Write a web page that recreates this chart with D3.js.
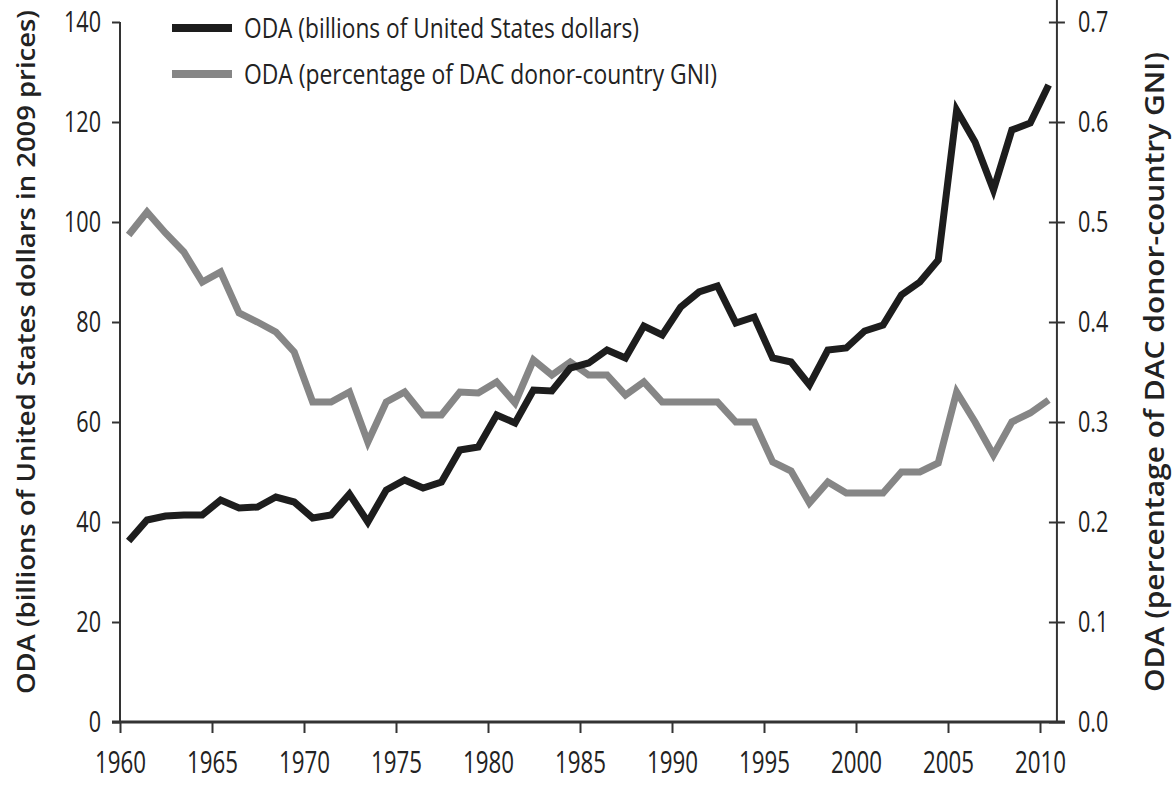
<!DOCTYPE html>
<html>
<head>
<meta charset="utf-8">
<script src="https://cdn.jsdelivr.net/npm/d3@7"></script>
<style>
  html, body { margin: 0; padding: 0; background: #fff; }
  svg { display: block; }
  .tick text { font-family: "Open Sans", "Noto Sans", sans-serif; fill: #222; }
</style>
</head>
<body>
<svg id="chart" width="1176" height="785"></svg>
<script>
const years = d3.range(1960, 2011);
const odaBillions = [36.2, 40.4, 41.2, 41.4, 41.4, 44.4, 42.8, 43.0, 45.0, 44.0,
  40.8, 41.4, 45.6, 40.0, 46.4, 48.4, 46.8, 48.0, 54.4, 55.0,
  61.4, 59.8, 66.4, 66.2, 70.8, 71.8, 74.4, 72.8, 79.2, 77.4,
  83.0, 86.0, 87.2, 79.8, 81.0, 72.8, 72.0, 67.4, 74.4, 74.8,
  78.2, 79.4, 85.4, 88.0, 92.4, 122.4, 116.0, 106.4, 118.4, 119.8,
  127.4];
const odaPctGNI = [0.487, 0.510, 0.489, 0.470, 0.440, 0.450, 0.409, 0.400, 0.390, 0.370,
  0.320, 0.320, 0.330, 0.280, 0.320, 0.330, 0.307, 0.307, 0.330, 0.329,
  0.340, 0.319, 0.362, 0.347, 0.360, 0.347, 0.347, 0.327, 0.340, 0.320,
  0.320, 0.320, 0.320, 0.300, 0.300, 0.260, 0.251, 0.219, 0.240, 0.229,
  0.229, 0.229, 0.250, 0.250, 0.259, 0.330, 0.300, 0.267, 0.300, 0.309,
  0.322];
const xTicks = [1960, 1965, 1970, 1975, 1980, 1985, 1990, 1995, 2000, 2005, 2010];
const leftTicks = [0, 20, 40, 60, 80, 100, 120, 140];
const rightTicks = [0, 0.1, 0.2, 0.3, 0.4, 0.5, 0.6, 0.7];
const seriesNames = ["ODA (billions of United States dollars)", "ODA (percentage of DAC donor-country GNI)"];
const leftTitle = "ODA (billions of United States dollars in 2009 prices)";
const rightTitle = "ODA (percentage of DAC donor-country GNI)";

const svg = d3.select("#chart");
const x = d3.scaleLinear().domain([1960, 2010]).range([120, 1040]);
const yL = d3.scaleLinear().domain([0, 140]).range([722, 22]);
const yR = d3.scaleLinear().domain([0, 0.7]).range([722, 22]);
const offset = 0.47;
const axisColor = "#333";
const condense = 0.72;

function narrow(sel) {
  sel.each(function () {
    const t = d3.select(this);
    const xx = +(t.attr("x") || 0);
    t.attr("x", xx / condense).attr("transform", `scale(${condense},1)`);
  });
}

// Left axis
const gL = svg.append("g").attr("transform", `translate(${x(1960)},0)`)
  .call(d3.axisLeft(yL).tickValues(leftTicks).tickSize(8).tickPadding(11).tickFormat(d3.format("d")));
gL.select(".domain").remove();
gL.selectAll(".tick line").attr("stroke", axisColor).attr("stroke-width", 2);
gL.selectAll(".tick text").attr("font-size", 30).call(narrow);
svg.append("line").attr("x1", x(1960)).attr("x2", x(1960)).attr("y1", yL(140)).attr("y2", yL(0))
  .attr("stroke", axisColor).attr("stroke-width", 2);

// Right axis
const rightX = x(2010.92);
const gR = svg.append("g").attr("transform", `translate(${rightX},0)`)
  .call(d3.axisRight(yR).tickValues(rightTicks).tickSize(8).tickPadding(13).tickFormat(d3.format(".1f")));
gR.select(".domain").remove();
gR.selectAll(".tick line").attr("x1", -8).attr("stroke", axisColor).attr("stroke-width", 2);
gR.selectAll(".tick text").attr("font-size", 30).call(narrow);
svg.append("line").attr("x1", rightX).attr("x2", rightX).attr("y1", 0).attr("y2", yR(0))
  .attr("stroke", axisColor).attr("stroke-width", 2);

// Bottom axis
const gB = svg.append("g").attr("transform", `translate(0,${yL(0)})`)
  .call(d3.axisBottom(x).tickValues(xTicks).tickSize(11).tickPadding(18).tickFormat(d3.format("d")));
gB.select(".domain").remove();
gB.selectAll(".tick line").attr("stroke", axisColor).attr("stroke-width", 2);
gB.selectAll(".tick text").attr("font-size", 31).call(narrow);
svg.append("line").attr("x1", x(1960) - 8).attr("x2", rightX + 8).attr("y1", yL(0)).attr("y2", yL(0))
  .attr("stroke", axisColor).attr("stroke-width", 3);

// Lines
const lineL = d3.line().x((d, i) => x(years[i] + offset)).y(d => yL(d));
const lineR = d3.line().x((d, i) => x(years[i] + offset)).y(d => yR(d));
svg.append("path").datum(odaPctGNI).attr("d", lineR).attr("fill", "none")
  .attr("stroke", "#868686").attr("stroke-width", 7).attr("stroke-linejoin", "miter");
svg.append("path").datum(odaBillions).attr("d", lineL).attr("fill", "none")
  .attr("stroke", "#1d1d1d").attr("stroke-width", 7).attr("stroke-linejoin", "miter");

// Legend
const legendColors = ["#1d1d1d", "#868686"];
const legendWidths = [395, 473];
const leg = svg.append("g");
seriesNames.forEach((name, i) => {
  const yy = 28 + i * 46;
  leg.append("line").attr("x1", 172).attr("x2", 232).attr("y1", yy).attr("y2", yy)
    .attr("stroke", legendColors[i]).attr("stroke-width", 8);
  leg.append("text").attr("x", 244).attr("y", yy + 10).text(name)
    .attr("font-family", "'Open Sans', 'Noto Sans', sans-serif")
    .attr("font-size", 28).attr("fill", "#222")
    .attr("textLength", legendWidths[i]).attr("lengthAdjust", "spacingAndGlyphs");
});

// Axis titles
svg.append("text").attr("transform", `translate(35,${yL(74)}) rotate(-90)`)
  .attr("text-anchor", "middle").text(leftTitle)
  .attr("font-family", "'Open Sans', 'Noto Sans', sans-serif").attr("font-weight", 600)
  .attr("font-size", 26).attr("fill", "#222")
  .attr("textLength", 684).attr("lengthAdjust", "spacingAndGlyphs");
svg.append("text").attr("transform", `translate(1164,${yL(70)}) rotate(-90)`)
  .attr("text-anchor", "middle").text(rightTitle)
  .attr("font-family", "'Open Sans', 'Noto Sans', sans-serif").attr("font-weight", 600)
  .attr("font-size", 27).attr("fill", "#222")
  .attr("textLength", 640).attr("lengthAdjust", "spacingAndGlyphs");
</script>
</body>
</html>
